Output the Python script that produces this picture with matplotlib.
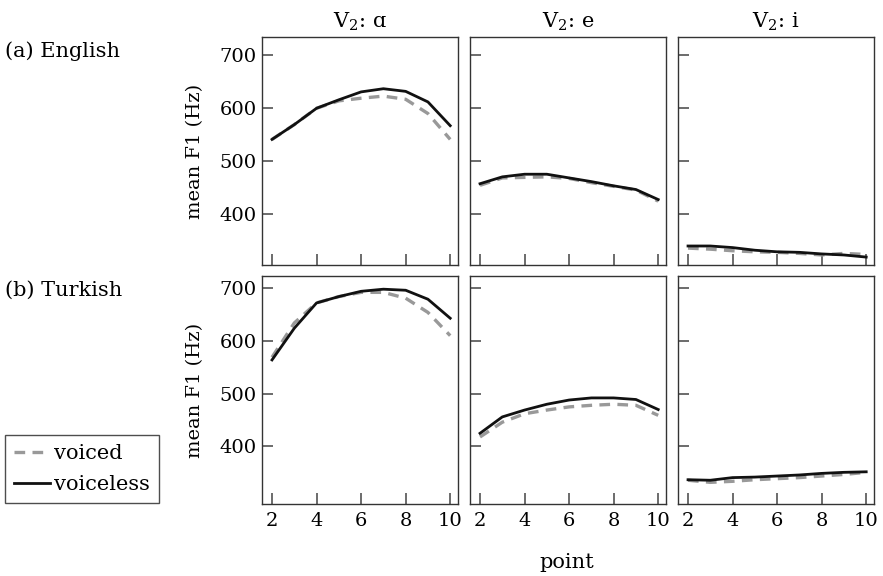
import numpy as np
import matplotlib
matplotlib.use('Agg')
import matplotlib.pyplot as plt
from matplotlib.lines import Line2D

plt.rcParams['font.family'] = ['DejaVu Serif']
plt.rcParams['mathtext.fontset'] = 'dejavuserif'

points = [2, 3, 4, 5, 6, 7, 8, 9, 10]
vowels = ['ɑ', 'e', 'i']
languages = ['(a) English', '(b) Turkish']

# English
en_voiced = {
    'ɑ': [541, 569, 600, 614, 619, 623, 617, 590, 541],
    'e': [454, 468, 469, 470, 467, 459, 452, 445, 424],
    'i': [335, 333, 330, 328, 327, 325, 322, 325, 323],
}
en_voiceless = {
    'ɑ': [541, 569, 600, 616, 631, 637, 632, 612, 567],
    'e': [457, 470, 475, 475, 468, 461, 453, 446, 427],
    'i': [339, 339, 336, 331, 328, 327, 324, 322, 318],
}
# Turkish
tr_voiced = {
    'ɑ': [569, 634, 672, 684, 692, 692, 681, 654, 610],
    'e': [418, 446, 462, 469, 475, 478, 480, 478, 459],
    'i': [336, 332, 334, 337, 339, 341, 344, 347, 351],
}
tr_voiceless = {
    'ɑ': [564, 624, 672, 684, 694, 698, 696, 679, 643],
    'e': [425, 456, 469, 480, 488, 492, 492, 489, 470],
    'i': [337, 336, 341, 342, 344, 346, 349, 351, 352],
}

data = [(en_voiced, en_voiceless), (tr_voiced, tr_voiceless)]
ylims = [(303, 735), (291, 723)]

W, H = 883, 576
fig = plt.figure(figsize=(W / 100, H / 100), dpi=100)

lefts = [262, 470, 678]
tops = [37, 276]
aw, ah = 196, 228
spine_col = '#333333'
dash = (0, (3.2, 2.2))

for r in range(2):
    voiced, voiceless = data[r]
    for c, v in enumerate(vowels):
        ax = fig.add_axes([lefts[c] / W, 1 - (tops[r] + ah) / H, aw / W, ah / H])
        ax.plot(points, voiced[v], color='#999999', lw=2.4, ls=dash)
        ax.plot(points, voiceless[v], color='#111111', lw=2.0)
        ax.set_xlim(1.55, 10.35)
        ax.set_ylim(*ylims[r])
        ax.set_xticks([2, 4, 6, 8, 10])
        ax.set_yticks([400, 500, 600, 700])
        ax.tick_params(direction='in', length=8, width=1.1, color='#444444',
                       labelsize=14, pad=2)
        ax.tick_params(axis='y', pad=4)
        for s in ax.spines.values():
            s.set_color(spine_col)
            s.set_linewidth(1.0)
        if r == 0:
            ax.tick_params(labelbottom=False)
            ax.set_title('V$_2$: ' + v, fontsize=15, pad=7)
        else:
            ax.tick_params(axis='x', pad=6)
        if c == 0:
            ax.set_ylabel('mean F1 (Hz)', fontsize=14, labelpad=11)
        else:
            ax.tick_params(labelleft=False)

for r, lab in enumerate(languages):
    fig.text(5 / W, 1 - (tops[r] + 14) / H, lab, fontsize=15, ha='left', va='center')

fig.text(567 / W, 1 - 563 / H, 'point', fontsize=15, ha='center', va='center')

handles = [Line2D([], [], color='#999999', lw=2.4, ls=dash),
           Line2D([], [], color='#111111', lw=2.0)]
leg = fig.legend(handles, ['voiced', 'voiceless'], loc='upper left',
                 bbox_to_anchor=(5 / W, 1 - 435 / H), fontsize=15,
                 frameon=True, fancybox=False, edgecolor='#222222',
                 handlelength=1.7, handletextpad=0.2, borderpad=0.45,
                 labelspacing=0.55, borderaxespad=0)
leg.get_frame().set_linewidth(1.0)

fig.savefig('out.png', dpi=100)
